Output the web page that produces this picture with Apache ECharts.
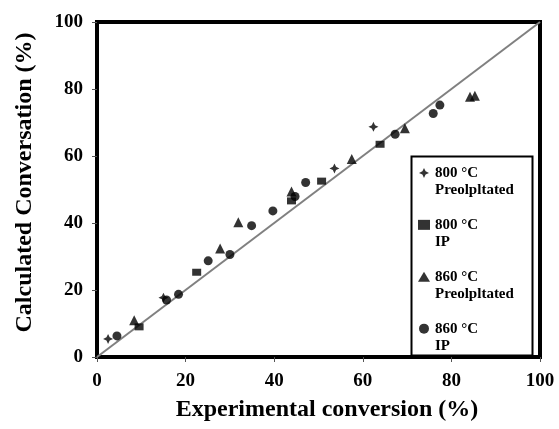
<!DOCTYPE html>
<html><head><meta charset="utf-8">
<script src="https://cdn.jsdelivr.net/npm/echarts@6/dist/echarts.min.js"></script>
<style>html,body{margin:0;padding:0;background:#fff}#c{width:559px;height:429px}</style>
</head><body><div id="c"></div>
<script>
const xTicks = [0, 20, 40, 60, 80, 100];
const yTicks = [0, 20, 40, 60, 80, 100];
const seriesNames = ['800 °C\nPreolpltated', '800 °C\nIP', '860 °C\nPreolpltated', '860 °C\nIP'];
const s800Pre = [[2.5, 5.4], [15.0, 17.7], [53.6, 56.3], [62.4, 68.7]];
const s800IP = [[9.5, 9.0], [22.5, 25.3], [43.9, 46.6], [50.7, 52.5], [63.9, 63.5]];
const s860Pre = [[8.4, 11.0], [27.8, 32.4], [31.9, 40.2], [43.9, 49.4], [57.5, 59.1], [69.5, 68.3], [84.2, 77.7], [85.3, 78.0]];
const s860IP = [[4.5, 6.3], [15.7, 17.0], [18.4, 18.7], [25.1, 28.7], [30.0, 30.6], [34.9, 39.2], [39.7, 43.6], [44.7, 47.9], [47.1, 52.1], [67.3, 66.5], [75.9, 72.7], [77.4, 75.2]];
const fitLine = [[0, 0], [100, 100]];

const starPath = 'path://M0,-5 L1.6,-1.6 L5,0 L1.6,1.6 L0,5 L-1.6,1.6 L-5,0 L-1.6,-1.6 Z';
const font = '"Liberation Serif", "Times New Roman", serif';
const chart = echarts.init(document.getElementById('c'), null, {renderer: 'canvas'});
chart.setOption({
  animation: false,
  backgroundColor: '#fff',
  grid: {left: 97, top: 22, right: 19, bottom: 72, show: true, borderColor: '#000', borderWidth: 4, backgroundColor: 'transparent'},
  xAxis: {
    type: 'value', min: xTicks[0], max: xTicks[xTicks.length - 1], interval: 20,
    name: 'Experimental conversion (%)', nameLocation: 'middle', nameGap: 41,
    nameTextStyle: {fontFamily: font, fontWeight: 'bold', fontSize: 24, color: '#000', padding: [0, 0, 0, 17]},
    axisLine: {lineStyle: {color: '#000', width: 4}},
    axisTick: {show: true, length: 5, lineStyle: {color: '#555', width: 1}},
    axisLabel: {fontFamily: font, fontWeight: 'bold', fontSize: 19, color: '#000', margin: 15},
    splitLine: {show: false}
  },
  yAxis: {
    type: 'value', min: yTicks[0], max: yTicks[yTicks.length - 1], interval: 20,
    name: 'Calculated Conversation (%)', nameLocation: 'middle', nameGap: 60,
    nameTextStyle: {fontFamily: font, fontWeight: 'bold', fontSize: 24, color: '#000', padding: [0, 0, 0, 14]},
    axisLine: {lineStyle: {color: '#000', width: 4}},
    axisTick: {show: true, length: 5, lineStyle: {color: '#555', width: 1}},
    axisLabel: {fontFamily: font, fontWeight: 'bold', fontSize: 19, color: '#000', margin: 14},
    splitLine: {show: false}
  },
  legend: {
    orient: 'vertical', left: 418, top: 147, itemGap: 0, itemWidth: 12, itemHeight: 10, padding: 0,
    formatter: name => ' \n' + name,
    textStyle: {fontFamily: font, fontWeight: 'bold', fontSize: 15, lineHeight: 17.3, color: '#000'},
    data: [
      {name: seriesNames[0], icon: starPath},
      {name: seriesNames[1], icon: 'rect'},
      {name: seriesNames[2], icon: 'triangle'},
      {name: seriesNames[3], icon: 'circle'}
    ]
  },
  graphic: [{type: 'rect', left: 409, top: 154, shape: {width: 121, height: 199}, style: {fill: 'none', stroke: '#000', lineWidth: 2}, z: 10}],
  series: [
    {type: 'line', data: fitLine, symbol: 'none', lineStyle: {color: '#808080', width: 2}, z: 1, silent: true},
    {name: seriesNames[0], type: 'scatter', data: s800Pre, symbol: starPath, symbolSize: 10, itemStyle: {color: '#000'}, z: 3},
    {name: seriesNames[1], type: 'scatter', data: s800IP, symbol: 'rect', symbolSize: [9, 7], itemStyle: {color: '#000'}, z: 3},
    {name: seriesNames[2], type: 'scatter', data: s860Pre, symbol: 'triangle', symbolSize: 10, itemStyle: {color: '#000'}, z: 3},
    {name: seriesNames[3], type: 'scatter', data: s860IP, symbol: 'circle', symbolSize: 9, itemStyle: {color: '#000'}, z: 3}
  ]
});
</script></body></html>
